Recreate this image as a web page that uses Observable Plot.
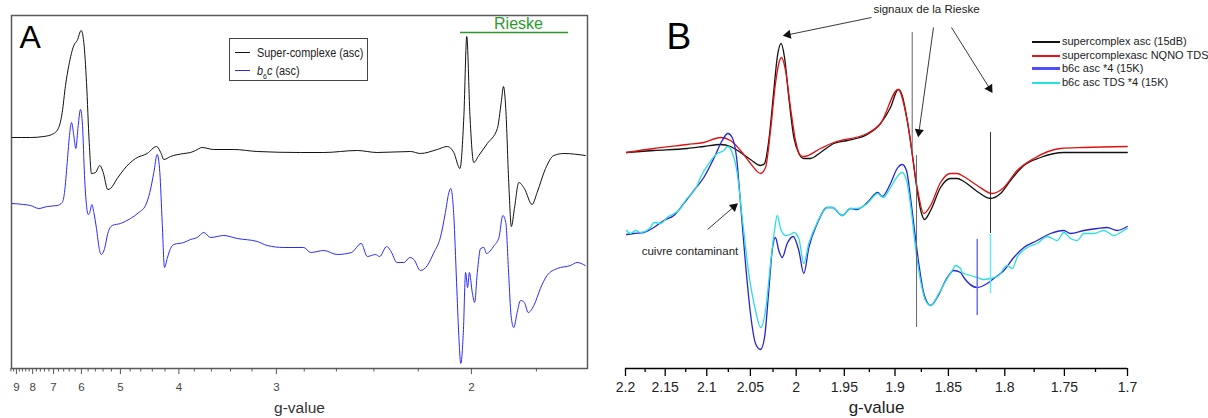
<!DOCTYPE html>
<html><head><meta charset="utf-8">
<script src="https://cdn.jsdelivr.net/npm/d3@7"></script>
<script src="https://cdn.jsdelivr.net/npm/@observablehq/plot@0.6"></script>
<style>
html,body{margin:0;padding:0;background:#fff;overflow:hidden;}
#wrap{position:relative;width:1208px;height:418px;overflow:hidden;background:#fff;}
#panelA{position:absolute;left:0;top:0;width:600px;height:418px;}
#panelB{position:absolute;left:600px;top:0;width:608px;height:418px;}
.legA{position:absolute;left:229px;top:38px;width:139px;height:43px;border:1.5px solid #444;box-sizing:border-box;font-family:"Liberation Sans",Arial,sans-serif;font-size:12.5px;color:#222;}
.legA .row{position:absolute;left:0;height:16px;line-height:16px;white-space:nowrap;}
.legA .sw{position:absolute;left:5px;top:7px;width:15px;height:1.3px;}
.legA .tx{position:absolute;left:27px;top:0;display:inline-block;transform:scaleX(0.87);transform-origin:0 50%;}
.legB{position:absolute;left:1032px;top:34px;font-family:"Liberation Sans",Arial,sans-serif;font-size:11px;color:#222;}
.legB .row{position:absolute;left:0;height:14px;line-height:14px;white-space:nowrap;}
.legB .sw{position:absolute;left:0;top:7px;width:28px;height:2px;}
.legB .tx{position:absolute;left:30px;top:0;}
</style></head>
<body>
<div id="wrap">
  <div id="panelA"></div>
  <div id="panelB"></div>
  <div class="legA">
    <div class="row" style="top:6px"><span class="sw" style="background:#111"></span><span class="tx">Super-complexe (asc)</span></div>
    <div class="row" style="top:24px"><span class="sw" style="background:#2a2aff"></span><span class="tx"><i>b</i><sub style="font-size:8px">6</sub><i>c</i> (asc)</span></div>
  </div>
  <div class="legB">
    <div class="row" style="top:0px"><span class="sw" style="background:#111"></span><span class="tx">supercomplex asc (15dB)</span></div>
    <div class="row" style="top:14px"><span class="sw" style="background:#ee1111"></span><span class="tx">supercomplexasc NQNO TDS</span></div>
    <div class="row" style="top:27px"><span class="sw" style="background:#4d4dff;height:3px;top:6px"></span><span class="tx">b6c asc *4 (15K)</span></div>
    <div class="row" style="top:41px"><span class="sw" style="background:#22e2e2"></span><span class="tx">b6c asc TDS *4 (15K)</span></div>
  </div>
</div>
<script>
// ---------- Panel A data: [g-value, intensity (a.u.)] ----------
const superA = [[9.30,231],[8.12,231],[7.43,232],[6.99,235],[6.79,241],[6.655,256],[6.533,283],[6.414,303],[6.243,323],[6.132,328],[6.006,338],[5.927,326],[5.847,286],[5.769,226],[5.705,195],[5.595,196],[5.483,203],[5.397,196],[5.285,179],[5.221,180],[5.069,190],[4.928,199],[4.697,210],[4.486,215],[4.332,222],[4.258,215],[4.218,209],[4.118,212],[3.934,215],[3.847,216],[3.785,218],[3.705,221],[3.574,219],[3.368,219],[3.155,217],[2.825,216],[2.675,216],[2.485,218],[2.384,216],[2.232,217],[2.191,215],[2.124,219],[2.086,222],[2.062,216],[2.040,200],[2.026,253],[2.016,332],[2.005,253],[1.992,206],[1.975,213],[1.947,225],[1.915,240],[1.903,266],[1.896,282],[1.889,260],[1.880,186],[1.872,142],[1.863,160],[1.850,186],[1.834,180],[1.812,164],[1.798,176],[1.775,200],[1.753,213],[1.727,215],[1.674,213]];
const b6cA = [[9.30,165],[8.515,164],[8.12,163],[7.677,160],[7.276,162],[6.850,163],[6.655,166],[6.569,176],[6.471,206],[6.380,236],[6.321,246],[6.243,233],[6.178,220],[6.100,243],[6.028,259],[5.966,243],[5.906,193],[5.847,163],[5.798,154],[5.752,156],[5.695,164],[5.641,156],[5.569,140],[5.498,120],[5.447,114],[5.362,120],[5.285,135],[5.181,143],[4.998,145],[4.793,150],[4.636,156],[4.516,163],[4.442,176],[4.375,196],[4.321,214],[4.279,196],[4.242,146],[4.207,101],[4.167,110],[4.118,120],[4.071,124],[3.934,126],[3.847,129],[3.764,131],[3.686,136],[3.610,131],[3.468,133],[3.335,130],[3.155,127],[3.072,123],[2.944,121],[2.803,121],[2.759,116],[2.675,118],[2.595,114],[2.516,116],[2.464,125],[2.433,112],[2.392,114],[2.372,112],[2.339,122],[2.321,118],[2.291,106],[2.261,106],[2.235,111],[2.218,109],[2.191,98],[2.163,103],[2.137,116],[2.112,131],[2.093,156],[2.080,176],[2.073,180],[2.062,153],[2.052,86],[2.044,33],[2.037,5],[2.028,36],[2.020,96],[2.013,81],[2.007,96],[1.997,76],[1.989,66],[1.980,96],[1.969,120],[1.958,121],[1.950,115],[1.925,123],[1.910,131],[1.898,153],[1.889,146],[1.880,93],[1.873,53],[1.865,41],[1.855,56],[1.845,68],[1.834,66],[1.823,56],[1.807,63],[1.789,80],[1.771,93],[1.744,100],[1.710,103],[1.694,106],[1.674,103]];
const gRangeA = [9.353, 1.6688];
const majorTicksA = [9, 8, 7, 6, 5, 4, 3, 2];
const rieskeA = {g1: 2.038, g2: 1.715, gLabel: 1.851, i: 336, iLabel: 339.5, label: "Rieske"};

// ---------- Panel B data: [g-value, intensity (a.u.)] ----------
const superB = [[2.1987,216],[2.1641,218],[2.1232,220],[2.1035,222],[2.0840,224],[2.0725,222],[2.0611,216],[2.0499,209],[2.0387,203],[2.0343,205],[2.0296,228],[2.0241,278],[2.0204,311],[2.0161,325],[2.0125,311],[2.0079,271],[2.0025,231],[1.9972,215],[1.9919,210],[1.9848,210],[1.9744,216],[1.9607,225],[1.9471,228],[1.9271,234],[1.9140,245],[1.9043,261],[1.8969,279],[1.8931,273],[1.8883,248],[1.8836,215],[1.8789,178],[1.8751,156],[1.8721,149],[1.8664,158],[1.8572,181],[1.8481,190],[1.8420,190],[1.8361,187],[1.8241,177],[1.8124,170],[1.8037,175],[1.7951,188],[1.7837,203],[1.7697,211],[1.7505,216],[1.7343,216],[1.7002,216]];
const superNqnoB = [[2.1987,216],[2.1641,220],[2.1232,224],[2.1035,226],[2.0840,231],[2.0725,228],[2.0611,218],[2.0499,205],[2.0387,195],[2.0332,201],[2.0277,238],[2.0223,285],[2.0187,305],[2.0158,311],[2.0114,298],[2.0061,261],[2.0007,228],[1.9954,213],[1.9919,212],[1.9744,220],[1.9607,226],[1.9271,235],[1.9140,245],[1.8969,279],[1.8883,248],[1.8789,181],[1.8727,155],[1.8664,163],[1.8572,186],[1.8481,195],[1.8420,195],[1.8361,192],[1.8241,183],[1.8109,175],[1.8008,181],[1.7894,198],[1.7753,210],[1.7532,220],[1.7343,221],[1.7002,222]];
const b6cB = [[2.1987,134],[2.1894,135],[2.1766,136],[2.1641,141],[2.1517,148],[2.1394,153],[2.1273,165],[2.1153,178],[2.1035,191],[2.0918,210],[2.0820,228],[2.0756,235],[2.0706,231],[2.0656,211],[2.0611,165],[2.0555,105],[2.0499,55],[2.0443,25],[2.0387,19],[2.0343,31],[2.0296,78],[2.0259,118],[2.0223,131],[2.0187,118],[2.0150,111],[2.0096,125],[2.0032,132],[1.9972,118],[1.9919,95],[1.9866,121],[1.9778,145],[1.9675,161],[1.9623,161],[1.9521,153],[1.9438,160],[1.9370,159],[1.9271,166],[1.9167,176],[1.9124,172],[1.9043,185],[1.8979,200],[1.8931,204],[1.8890,198],[1.8852,171],[1.8814,138],[1.8774,105],[1.8727,75],[1.8664,63],[1.8603,71],[1.8511,91],[1.8451,98],[1.8390,96],[1.8361,91],[1.8241,81],[1.8153,85],[1.8095,90],[1.8008,98],[1.7923,111],[1.7837,121],[1.7725,128],[1.7614,135],[1.7505,138],[1.7450,135],[1.7343,138],[1.7236,140],[1.7158,141],[1.7080,138],[1.7002,142]];
const b6cTdsB = [[2.1987,138],[2.1936,135],[2.1872,138],[2.1808,136],[2.1682,141],[2.1641,146],[2.1558,145],[2.1475,151],[2.1313,160],[2.1253,168],[2.1113,183],[2.1074,191],[2.0976,205],[2.0878,215],[2.0802,218],[2.0756,222],[2.0706,216],[2.0648,195],[2.0592,151],[2.0518,95],[2.0443,58],[2.0387,41],[2.0332,58],[2.0277,105],[2.0234,138],[2.0204,153],[2.0168,140],[2.0114,133],[2.0042,135],[2.0025,136],[1.9972,130],[1.9919,105],[1.9866,125],[1.9778,146],[1.9675,161],[1.9623,161],[1.9521,153],[1.9438,160],[1.9370,160],[1.9271,165],[1.9167,175],[1.9114,171],[1.9043,181],[1.8985,191],[1.8931,196],[1.8883,185],[1.8845,158],[1.8805,121],[1.8758,88],[1.8711,68],[1.8664,63],[1.8588,75],[1.8511,90],[1.8465,98],[1.8436,103],[1.8390,100],[1.8375,96],[1.8301,93],[1.8241,91],[1.8183,89],[1.8124,90],[1.8052,93],[1.7979,103],[1.7936,100],[1.7894,111],[1.7808,121],[1.7725,125],[1.7641,132],[1.7559,128],[1.7505,136],[1.7450,130],[1.7396,128],[1.7343,135],[1.7263,135],[1.7184,138],[1.7106,133],[1.7054,136],[1.7002,140]];
const gRangeB = [2.2, 1.7];
const majorTicksB = [2.2, 2.15, 2.1, 2.05, 2, 1.95, 1.9, 1.85, 1.8, 1.75, 1.7];
// marker lines: g, from intensity i1 to i2
const markerGrayB = [{g: 1.8836, i1: 336, i2: 215}, {g: 1.8795, i1: 213, i2: 41}];
const markerBlackB = [{g: 1.8124, i1: 236, i2: 135}];
const markerBlueB = [{g: 1.8241, i1: 129, i2: 53}];
const markerCyanB = [{g: 1.8124, i1: 134, i2: 75}];
// annotations
const arrowsB = [
  {g1: 1.9229, i1: 351, g2: 2.0125, i2: 333},
  {g1: 1.8637, i1: 341, g2: 1.8777, i2: 233},
  {g1: 1.8472, i1: 341, g2: 1.8115, i2: 277},
  {g1: 2.0991, i1: 139, g2: 2.0656, i2: 164}
];
const notesB = [
  {g: 1.8702, i: 359, text: "signaux de la Rieske"},
  {g: 2.1199, i: 117, text: "cuivre contaminant"}
];

const inv = g => 1 / g;
const fmtG = v => String(+(1 / v).toFixed(3));
const spectrum = (data, stroke, strokeWidth) =>
  Plot.line(data, {x: d => inv(d[0]), y: d => d[1], stroke, strokeWidth, curve: "monotone-x"});

// ---------- Panel A ----------
const minorA = d3.range(18, 95, 2).map(v => v / 10).filter(v => !Number.isInteger(v));
const fontA = '"Liberation Sans",Arial,sans-serif';
const plotA = Plot.plot({
  width: 600, height: 418,
  marginLeft: 11, marginRight: 13, marginTop: 15, marginBottom: 50,
  x: {type: "linear", domain: gRangeA.map(inv)},
  y: {domain: [0, 353], axis: null},
  style: {fontFamily: fontA, background: "transparent", overflow: "visible"},
  marks: [
    Plot.frame({stroke: "#5a5a5a", strokeWidth: 1.5}),
    Plot.axisX(minorA.map(inv), {tickSize: 3.5, tickFormat: () => "", stroke: "#555", label: null}),
    Plot.axisX(majorTicksA.map(inv), {tickSize: 6, tickPadding: 8, tickFormat: fmtG, stroke: "#555", fill: "#444", fontSize: 11.5, label: null}),
    Plot.text(["g-value"], {frameAnchor: "bottom", dy: 44, lineAnchor: "bottom", fontSize: 15.5, fill: "#333"}),
    spectrum(b6cA, "#2a2aff", 1),
    spectrum(superA, "#111", 1),
    Plot.ruleY([rieskeA], {y: "i", x1: d => inv(d.g1), x2: d => inv(d.g2), stroke: "#2a9a2a", strokeWidth: 1.5}),
    Plot.text([rieskeA], {x: d => inv(d.gLabel), y: "iLabel", text: "label", lineAnchor: "bottom", fontSize: 16, fill: "#2a9a2a"}),
    Plot.text(["A"], {frameAnchor: "top-left", dx: 8, dy: 10, lineAnchor: "top", textAnchor: "start", fontSize: 32, fill: "#000"})
  ]
});
document.getElementById("panelA").append(plotA);

// ---------- Panel B ----------
const minorB = d3.range(1725, 2200, 50).map(v => v / 1000);
const fontB = '"Liberation Sans",Arial,sans-serif';
const baseMarksB = [
  Plot.ruleY([0], {x1: inv(gRangeB[0]), x2: inv(gRangeB[1]), stroke: "#000", strokeWidth: 1.6}),
  Plot.axisX(minorB.map(inv), {tickSize: 4, tickFormat: () => "", stroke: "#000", strokeWidth: 1.3, label: null}),
  Plot.axisX(majorTicksB.map(inv), {tickSize: 8, tickPadding: 6, tickFormat: fmtG, stroke: "#000", strokeWidth: 1.3, fill: "#222", fontSize: 14, label: null}),
  Plot.text(["g-value"], {frameAnchor: "bottom", dy: 44, lineAnchor: "bottom", fontSize: 17, fill: "#222"}),
  spectrum(superB, "#111", 1.3),
  spectrum(superNqnoB, "#e01010", 1.3),
  spectrum(b6cB, "#2424d4", 1.3),
  spectrum(b6cTdsB, "#2adede", 1.3),
  Plot.ruleX(markerGrayB, {x: d => inv(d.g), y1: "i1", y2: "i2", stroke: "#666", strokeWidth: 1}),
  Plot.ruleX(markerBlackB, {x: d => inv(d.g), y1: "i1", y2: "i2", stroke: "#333", strokeWidth: 1}),
  Plot.ruleX(markerBlueB, {x: d => inv(d.g), y1: "i1", y2: "i2", stroke: "#7070f0", strokeWidth: 1.5}),
  Plot.ruleX(markerCyanB, {x: d => inv(d.g), y1: "i1", y2: "i2", stroke: "#66eaea", strokeWidth: 1.5}),
  Plot.link(arrowsB, {x1: d => inv(d.g1), y1: "i1", x2: d => inv(d.g2), y2: "i2", stroke: "#222", strokeWidth: 0.9}),
  Plot.text(notesB, {x: d => inv(d.g), y: "i", text: "text", fontSize: 11.5, fill: "#222"}),
  Plot.text(["B"], {frameAnchor: "top-left", dx: 41, dy: 22, lineAnchor: "top", textAnchor: "start", fontSize: 37, fill: "#000"})
];
const optsB = {
  width: 608, height: 418,
  marginLeft: 25, marginRight: 81, marginTop: 0, marginBottom: 50,
  x: {type: "linear", domain: gRangeB.map(inv)},
  y: {domain: [0, 368], axis: null},
  style: {fontFamily: fontB, background: "transparent", overflow: "visible"}
};
// first pass to obtain the scales for arrow-head orientation
const probe = Plot.plot({...optsB, marks: baseMarksB});
const sx = probe.scale("x"), sy = probe.scale("y");
const heads = arrowsB.map(d => {
  const x1 = sx.apply(inv(d.g1)), y1 = sy.apply(d.i1);
  const x2 = sx.apply(inv(d.g2)), y2 = sy.apply(d.i2);
  const len = Math.hypot(x2 - x1, y2 - y1), ux = (x2 - x1) / len, uy = (y2 - y1) / len;
  const cx = x2 - ux * 3.5, cy = y2 - uy * 3.5;
  return {x: sx.invert(cx), y: sy.invert(cy), rot: Math.atan2(ux, -uy) * 180 / Math.PI};
});
const plotB = Plot.plot({...optsB, marks: [
  ...baseMarksB,
  Plot.dot(heads, {x: "x", y: "y", rotate: "rot", symbol: "triangle", r: 3.4, fill: "#111", stroke: "none"})
]});
document.getElementById("panelB").append(plotB);
</script>
</body></html>
